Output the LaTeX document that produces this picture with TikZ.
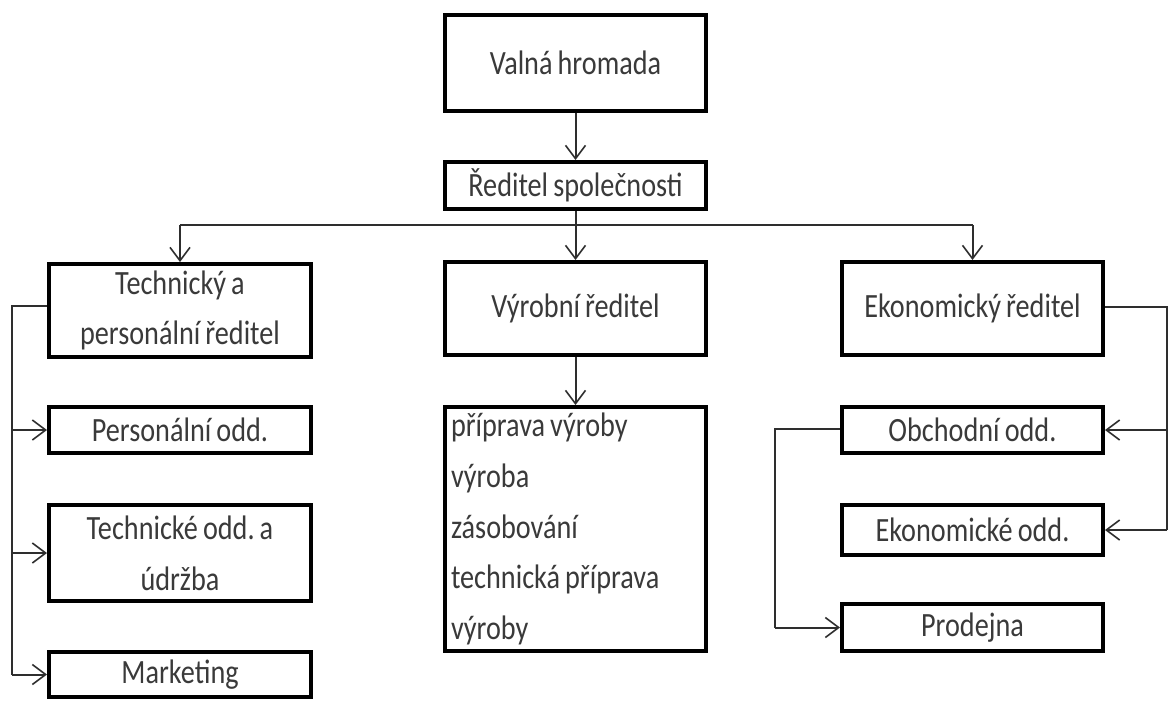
\documentclass[tikz,border=0pt]{standalone}
\usepackage{fontspec}
\setmainfont{Carlito}[FakeStretch=0.83, WordSpace=0.8]
\usetikzlibrary{arrows.meta}
\definecolor{ink}{HTML}{3A3A3A}
\definecolor{wire}{HTML}{2E2E2E}
% plain interword spacing inside fixed-width, flush-left nodes
\newcommand{\naturalspaces}{\spaceskip=0pt\relax\xspaceskip=0pt\relax}
\begin{document}
\begin{tikzpicture}[x=0.75pt,y=-0.75pt,
  orgbox/.style={draw=black, line width=3pt, fill=white, text=ink,
    minimum width=195.75pt, inner sep=2pt, align=center,
    font=\fontsize{25.5}{38}\selectfont\frenchspacing},
  link/.style={draw=wire, line width=1.5pt},
  tip/.style={link, -{Straight Barb[length=10pt,width=15pt,line width=1.2pt]}}]
\useasboundingbox (0,0) rectangle (1171,701);

% top of the hierarchy
\node[orgbox, minimum height=72pt] (valna) at (575.5,63) {Valná hromada};
\node[orgbox, minimum height=35.25pt] (reditel) at (575.5,185.5) {Ředitel společnosti};

% directors
\node[orgbox, minimum width=196.5pt, minimum height=69.75pt] (tech) at (180,310.5)
  {Technický a\\personální ředitel};
\node[orgbox, minimum height=69.75pt] (vyrob) at (575.5,308.5) {Výrobní ředitel};
\node[orgbox, minimum height=69.75pt] (ekon) at (972.5,308.5) {Ekonomický ředitel};

% left column departments
\node[orgbox, minimum width=196.5pt, minimum height=34.5pt] (perso) at (180,430) {Personální odd.};
\node[orgbox, minimum width=196.5pt, minimum height=72pt] (techodd) at (180,553)
  {Technické odd. a\\údržba};
\node[orgbox, minimum width=196.5pt, minimum height=33.75pt] (market) at (180,674.5) {Marketing};

% production tasks
\node[orgbox, minimum height=183pt, text width=186.75pt, inner xsep=4.5pt, align=left] (ukoly) at (575.5,529)
  {\naturalspaces příprava výroby\\výroba\\zásobování\\technická příprava\\výroby};

% right column departments
\node[orgbox, minimum height=34.5pt] (obch) at (972.5,430) {Obchodní odd.};
\node[orgbox, minimum height=37.5pt] (ekoodd) at (972.5,530) {Ekonomické odd.};
\node[orgbox, minimum height=35.25pt] (prodej) at (972.5,627.5) {Prodejna};

% helper points for the bus and side rails
\coordinate (busL) at (180,225);
\coordinate (busR) at (972.5,225);
\coordinate (lrail) at (12,306);
\coordinate (rrail) at (1167,307);
\coordinate (orail) at (775,429);

% connectors
\draw[tip] (valna.south) -- (reditel.north);
\draw[link] (busL) -- (busR);
\draw[tip] (reditel.south) -- (vyrob.north);
\draw[tip] (busL) -- (tech.north);
\draw[tip] (busR) -- (ekon.north);
\draw[tip] (vyrob.south) -- (ukoly.north);

\draw[link] (tech.west |- lrail) -- (lrail) -- (lrail |- market.west);
\draw[tip] (lrail |- perso.west) -- (perso.west);
\draw[tip] (lrail |- techodd.west) -- (techodd.west);
\draw[tip] (lrail |- market.west) -- (market.west);

\draw[link] (ekon.east |- rrail) -- (rrail) -- (rrail |- ekoodd.east);
\draw[tip] (rrail |- obch.east) -- (obch.east);
\draw[tip] (rrail |- ekoodd.east) -- (ekoodd.east);

\draw[link] (obch.west |- orail) -- (orail) -- (orail |- prodej.west);
\draw[tip] (orail |- prodej.west) -- (prodej.west);
\end{tikzpicture}
\end{document}
